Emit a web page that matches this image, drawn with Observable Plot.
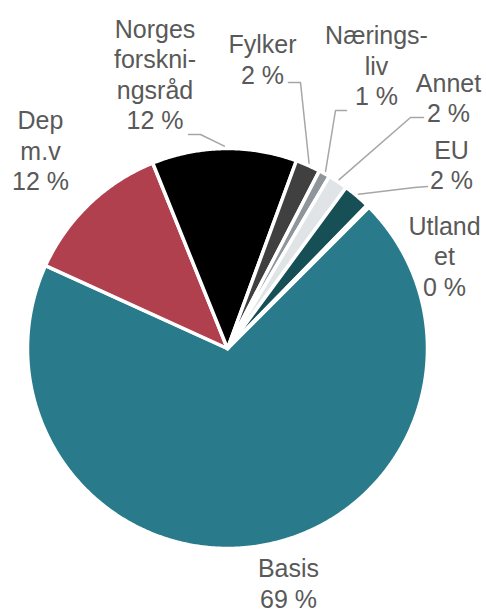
<!DOCTYPE html>
<html>
<head>
<meta charset="utf-8">
<script src="https://cdn.jsdelivr.net/npm/d3@7"></script>
<script src="https://cdn.jsdelivr.net/npm/@observablehq/plot@0.6"></script>
<style>
  html, body { margin: 0; padding: 0; background: #ffffff; }
  #chart svg { display: block; }
</style>
</head>
<body>
<div id="chart"></div>
<script>
// ---- data ----
const categories = ["Basis", "Dep\nm.v", "Norges\nforskni-\nngsråd", "Fylker", "Nærings-\nliv", "Annet", "EU", "Utland\net"];
const shares = [69.3, 12.1, 11.7, 2.0, 0.9, 1.6, 2.2, 0.2];
const palette = ["#297b8b", "#b0404e", "#000000", "#404040", "#8f969b", "#e1e4e7", "#174f57", "#7fb3bd"];

// ---- layout (pixels) ----
const W = 486, H = 614, CX = 227, CY = 348, R = 200;
const labelPx = [[288, 582], [40, 149.5], [154.5, 73], [262, 58], [376, 64.5], [448, 96.5], [451, 163.5], [444, 255]];
const leaderPx = [null, null, [[188, 134], [200, 134]], [[288, 82], [300, 82]], [[346, 110], [335, 110]], [[423, 117], [410, 117]], [[427, 186], [414, 187]], null];
const toData = ([px, py]) => ({x: (px - CX) / R, y: (CY - py) / R});

const rad = Math.PI / 180;
const arcs = d3.pie().sort(null).value(d => d.value)
  .startAngle(45 * rad).endAngle(405 * rad)(
    categories.map((name, i) => ({name, value: shares[i], i})));

// slice polygons
const slicePts = [];
arcs.forEach(a => {
  const name = a.data.name;
  slicePts.push({name, x: 0, y: 0});
  const steps = Math.max(2, Math.ceil((a.endAngle - a.startAngle) / (0.4 * rad)));
  for (let k = 0; k <= steps; k++) {
    const t = a.startAngle + (a.endAngle - a.startAngle) * k / steps;
    slicePts.push({name, x: Math.sin(t), y: Math.cos(t)});
  }
  slicePts.push({name, x: 0, y: 0});
});

// labels
const labels = arcs.map(a => {
  const p = toData(labelPx[a.data.i]);
  return {x: p.x, y: p.y, text: a.data.name + "\n" + Math.round(a.data.value) + " %"};
});

// leader lines
const leaders = [];
arcs.forEach(a => {
  const lp = leaderPx[a.data.i];
  if (!lp) return;
  const mid = (a.startAngle + a.endAngle) / 2;
  const id = a.data.name;
  lp.forEach(q => { const d = toData(q); leaders.push({id, x: d.x, y: d.y}); });
  leaders.push({id, x: 1.012 * Math.sin(mid), y: 1.012 * Math.cos(mid)});
});

const chart = Plot.plot({
  width: W,
  height: H,
  margin: 0,
  style: {background: "#ffffff", fontFamily: "'Liberation Sans', Arial, sans-serif"},
  x: {domain: [-CX / R, (W - CX) / R], range: [0, W], axis: null},
  y: {domain: [-(H - CY) / R, CY / R], range: [H, 0], axis: null},
  color: {domain: categories, range: palette},
  marks: [
    Plot.line(slicePts, {x: "x", y: "y", z: "name", fill: "name", stroke: "#ffffff", strokeWidth: 3.5, strokeLinejoin: "round", curve: "linear"}),
    Plot.line(leaders, {x: "x", y: "y", z: "id", stroke: "#a6a6a6", strokeWidth: 1.5}),
    Plot.text(labels, {x: "x", y: "y", text: "text", fill: "#595959", fontSize: 25, lineHeight: 1.22, textAnchor: "middle", lineAnchor: "middle"})
  ]
});
document.getElementById("chart").appendChild(chart);
</script>
</body>
</html>
